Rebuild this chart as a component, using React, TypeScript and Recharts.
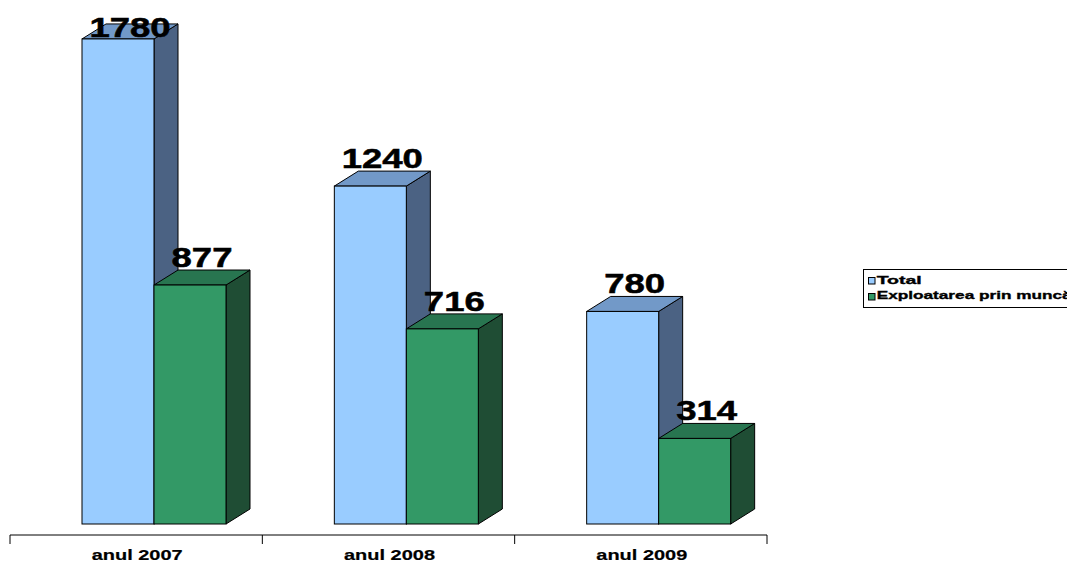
import React from 'react';
import { BarChart, Bar, XAxis, YAxis, LabelList, Legend } from 'recharts';

const categories = ['anul 2007', 'anul 2008', 'anul 2009'];
const totalValues = [1780, 1240, 780];
const laborValues = [877, 716, 314];
const seriesNames = ['Total', 'Exploatarea prin muncă'];
const yDomain = [0, 1800];

const data = categories.map((c, i) => ({ name: c, total: totalValues[i], labor: laborValues[i] }));

const W = 1067;
const H = 562;
const MARGIN = { top: 44.5, right: 300, bottom: 0, left: 10 };
const SHIFT_X = 18;
const SHIFT_Y = 11;
const DEPTH_X = 24;
const DEPTH_Y = 15;
const FONT = '"Liberation Sans", Arial, Helvetica, sans-serif';

const BLUE = { front: '#99CCFF', top: '#7299C8', side: '#4B6283' };
const GREEN = { front: '#339966', top: '#287550', side: '#1F4D34' };

function Bar3D(props: any) {
  const { x, y, width, height, colors } = props;
  if (x == null || y == null) return null;
  const fx = x + SHIFT_X;
  const fy = y - SHIFT_Y;
  const w = width;
  const h = height;
  const topPts = `${fx},${fy} ${fx + DEPTH_X},${fy - DEPTH_Y} ${fx + w + DEPTH_X},${fy - DEPTH_Y} ${fx + w},${fy}`;
  const sidePts = `${fx + w},${fy} ${fx + w + DEPTH_X},${fy - DEPTH_Y} ${fx + w + DEPTH_X},${fy + h - DEPTH_Y} ${fx + w},${fy + h}`;
  return (
    <g>
      <polygon points={sidePts} fill={colors.side} stroke="#000" strokeWidth={1} strokeLinejoin="round" />
      <polygon points={topPts} fill={colors.top} stroke="#000" strokeWidth={1} strokeLinejoin="round" />
      <rect x={fx} y={fy} width={w} height={h} fill={colors.front} stroke="#000" strokeWidth={1} />
    </g>
  );
}

function ValueLabel(props: any) {
  const { x, y, width, value } = props;
  if (x == null || y == null) return null;
  const cx = x + SHIFT_X + (width + DEPTH_X) / 2;
  const base = Math.max(y - SHIFT_Y - DEPTH_Y - 3, 37);
  const s = String(value);
  return (
    <text
      x={cx}
      y={base}
      textAnchor="middle"
      fontFamily={FONT}
      fontWeight="bold"
      fontSize={27}
      fill="#000"
      stroke="#000"
      strokeWidth={0.5}
      textLength={s.length * 20.3}
      lengthAdjust="spacingAndGlyphs"
    >
      {s}
    </text>
  );
}

const BAND = (W - MARGIN.left - MARGIN.right) / categories.length;

function CategoryTick(props: any) {
  const { x, y, payload, index } = props;
  const left = x - BAND / 2;
  const right = x + BAND / 2;
  return (
    <g>
      <line x1={left} y1={y} x2={left} y2={y + 9} stroke="#000" strokeWidth={1} />
      {index === categories.length - 1 && (
        <line x1={right} y1={y} x2={right} y2={y + 9} stroke="#000" strokeWidth={1} />
      )}
      <text
        x={x + 1}
        y={y + 25}
        textAnchor="middle"
        fontFamily={FONT}
        fontWeight="bold"
        fontSize={15}
        fill="#000"
        stroke="#000"
        strokeWidth={0.2}
        textLength={91}
        lengthAdjust="spacingAndGlyphs"
      >
        {payload.value}
      </text>
    </g>
  );
}

const legendColors = [BLUE.front, GREEN.front];
const legendWidths = [45, 195];

function LegendBox() {
  return (
    <div
      style={{
        width: 230,
        height: 39,
        border: '1px solid #000',
        boxSizing: 'border-box',
        background: '#fff',
        position: 'relative',
      }}
    >
      <svg width={230} height={39} style={{ display: 'block', position: 'absolute', left: -1, top: -1 }}>
        {seriesNames.map((n, i) => (
          <g key={n}>
            <rect x={5.5} y={8.5 + i * 16} width={6.5} height={6.5} fill={legendColors[i]} stroke="#000" strokeWidth={1} />
            <text
              x={13.7}
              y={14.5 + i * 15.8}
              fontFamily={FONT}
              fontWeight="bold"
              fontSize={11.5}
              fill="#000"
              stroke="#000"
              strokeWidth={0.35}
              textLength={legendWidths[i]}
              lengthAdjust="spacingAndGlyphs"
            >
              {n}
            </text>
          </g>
        ))}
      </svg>
    </div>
  );
}

export default function App() {
  return (
    <div style={{ position: 'absolute', left: 0, top: 0, width: W, height: H, background: '#fff', overflow: 'hidden' }}>
      <BarChart width={W} height={H} data={data} margin={MARGIN} barSize={72} barGap={0}>
        <XAxis
          dataKey="name"
          height={H - 535}
          axisLine={{ stroke: '#000', strokeWidth: 1 }}
          tickLine={false}
          tickSize={0}
          tickMargin={0}
          tick={<CategoryTick />}
          interval={0}
        />
        <YAxis hide width={0} domain={yDomain} />
        <Legend
          layout="horizontal"
          verticalAlign="middle"
          align="center"
          content={() => <LegendBox />}
          wrapperStyle={{ left: 863, top: 269, width: 230, height: 39 }}
        />
        <Bar dataKey="total" name={seriesNames[0]} isAnimationActive={false} shape={(p: any) => <Bar3D {...p} colors={BLUE} />}>
          <LabelList dataKey="total" content={(p: any) => <ValueLabel {...p} />} />
        </Bar>
        <Bar dataKey="labor" name={seriesNames[1]} isAnimationActive={false} shape={(p: any) => <Bar3D {...p} colors={GREEN} />}>
          <LabelList dataKey="labor" content={(p: any) => <ValueLabel {...p} />} />
        </Bar>
      </BarChart>
    </div>
  );
}
